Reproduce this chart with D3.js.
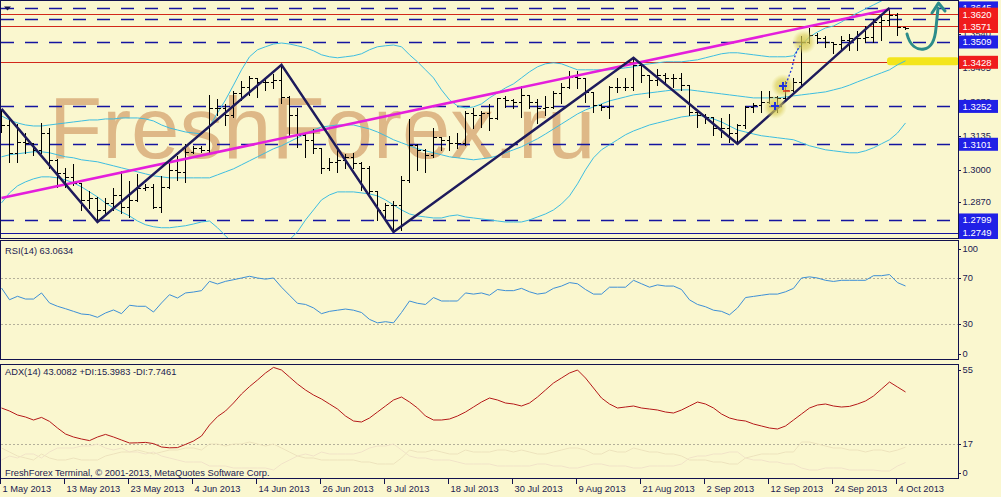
<!DOCTYPE html>
<html><head><meta charset="utf-8">
<script src="https://cdn.jsdelivr.net/npm/d3@7"></script>
<style>
html,body{margin:0;padding:0;background:#FAF7CF;overflow:hidden;}
svg{display:block;}
text{font-family:"Liberation Sans",Arial,sans-serif;}
</style></head><body>
<svg id="c" width="1001" height="497"></svg>
<script>
// ---------- data ----------
const dateLabels = ["1 May 2013","13 May 2013","23 May 2013","4 Jun 2013","14 Jun 2013","26 Jun 2013","8 Jul 2013","18 Jul 2013","30 Jul 2013","9 Aug 2013","21 Aug 2013","2 Sep 2013","12 Sep 2013","24 Sep 2013","4 Oct 2013"];
const dateLabelIdx = [0,8,16,24,32,40,48,56,64,72,80,88,96,104,112];

const open = [1.3166,1.3178,1.3067,1.3111,1.3107,1.3079,1.3146,1.3039,1.2987,1.2971,
1.2947,1.2879,1.2887,1.2839,1.2867,1.2899,1.2851,1.2879,1.2927,1.2931,
1.2851,1.2931,1.2999,1.2991,1.3071,1.3087,1.3079,1.3246,1.3246,1.3218,
1.3306,1.3330,1.3366,1.3350,1.3350,1.3358,1.3290,1.3218,1.3139,1.3119,
1.3087,1.3007,1.3031,1.3039,1.3051,1.3027,1.3007,1.2915,1.2839,1.2859,
1.2859,1.2959,1.3099,1.3079,1.3059,1.3131,1.3119,1.3107,1.3107,1.3226,
1.3218,1.3226,1.3206,1.3286,1.3278,1.3270,1.3298,1.3270,1.3246,1.3250,
1.3306,1.3330,1.3370,1.3366,1.3310,1.3258,1.3250,1.3330,1.3330,1.3330,
1.3418,1.3378,1.3358,1.3378,1.3366,1.3366,1.3337,1.3230,1.3218,1.3210,
1.3166,1.3166,1.3146,1.3178,1.3250,1.3258,1.3270,1.3290,1.3286,1.3318,
1.3350,1.3509,1.3537,1.3525,1.3509,1.3501,1.3517,1.3525,1.3525,1.3529,
1.3589,1.3597,1.3617,1.3569];
const high = [1.3242,1.3206,1.3186,1.3150,1.3111,1.3190,1.3170,1.3047,1.3011,1.3027,
1.2950,1.2919,1.2895,1.2891,1.2931,1.2999,1.2959,1.2987,1.2947,1.2947,
1.2979,1.3039,1.3059,1.3107,1.3099,1.3099,1.3302,1.3286,1.3266,1.3318,
1.3358,1.3378,1.3370,1.3370,1.3386,1.3418,1.3298,1.3250,1.3150,1.3166,
1.3091,1.3051,1.3087,1.3067,1.3071,1.3035,1.3018,1.2915,1.2871,1.2879,
1.2979,1.3206,1.3105,1.3085,1.3170,1.3135,1.3139,1.3150,1.3238,1.3250,
1.3238,1.3266,1.3290,1.3298,1.3285,1.3337,1.3300,1.3286,1.3298,1.3318,
1.3350,1.3398,1.3398,1.3370,1.3315,1.3266,1.3337,1.3370,1.3370,1.3446,
1.3425,1.3380,1.3406,1.3390,1.3386,1.3390,1.3340,1.3232,1.3226,1.3212,
1.3210,1.3226,1.3186,1.3258,1.3270,1.3318,1.3318,1.3298,1.3358,1.3370,
1.3537,1.3569,1.3549,1.3537,1.3512,1.3537,1.3545,1.3557,1.3577,1.3605,
1.3625,1.3645,1.3629,1.3573];
const low = [1.3150,1.3031,1.3031,1.3067,1.3059,1.3067,1.3007,1.2931,1.2931,1.2939,
1.2839,1.2847,1.2791,1.2819,1.2839,1.2827,1.2811,1.2875,1.2919,1.2847,
1.2831,1.2925,1.2959,1.2951,1.3067,1.3071,1.3067,1.3218,1.3178,1.3210,
1.3278,1.3298,1.3290,1.3318,1.3326,1.3266,1.3131,1.3091,1.3051,1.3067,
1.2987,1.3000,1.2991,1.3007,1.3007,1.2919,1.2907,1.2799,1.2799,1.2751,
1.2760,1.2950,1.2999,1.2991,1.3051,1.3079,1.3079,1.3087,1.3100,1.3166,
1.3170,1.3158,1.3200,1.3250,1.3246,1.3210,1.3246,1.3186,1.3218,1.3246,
1.3266,1.3326,1.3326,1.3270,1.3230,1.3238,1.3206,1.3310,1.3318,1.3318,
1.3350,1.3290,1.3337,1.3350,1.3330,1.3318,1.3218,1.3170,1.3186,1.3139,
1.3131,1.3111,1.3103,1.3166,1.3230,1.3230,1.3266,1.3230,1.3280,1.3312,
1.3330,1.3505,1.3505,1.3490,1.3466,1.3478,1.3478,1.3478,1.3509,1.3509,
1.3517,1.3577,1.3537,1.3561];
const close = [1.3178,1.3067,1.3111,1.3107,1.3079,1.3146,1.3039,1.2987,1.2971,1.2947,
1.2879,1.2887,1.2839,1.2867,1.2899,1.2851,1.2879,1.2927,1.2931,1.2851,
1.2931,1.2999,1.2991,1.3071,1.3087,1.3079,1.3246,1.3246,1.3218,1.3306,
1.3330,1.3366,1.3350,1.3350,1.3358,1.3290,1.3218,1.3139,1.3119,1.3087,
1.3007,1.3031,1.3039,1.3051,1.3027,1.3007,1.2915,1.2839,1.2859,1.2859,
1.2959,1.3099,1.3079,1.3059,1.3131,1.3119,1.3107,1.3107,1.3226,1.3218,
1.3226,1.3206,1.3286,1.3278,1.3270,1.3298,1.3270,1.3246,1.3250,1.3306,
1.3330,1.3370,1.3366,1.3310,1.3258,1.3250,1.3330,1.3330,1.3330,1.3418,
1.3378,1.3358,1.3378,1.3366,1.3366,1.3337,1.3230,1.3218,1.3210,1.3166,
1.3166,1.3146,1.3178,1.3250,1.3258,1.3270,1.3290,1.3286,1.3318,1.3350,
1.3509,1.3537,1.3525,1.3509,1.3501,1.3517,1.3525,1.3525,1.3529,1.3589,
1.3597,1.3617,1.3569,1.3565];

const bbUpper = [1.3214,1.3198,1.3186,1.3178,1.3174,1.3174,1.3178,1.3182,1.3186,1.3190,
1.3194,1.3198,1.3198,1.3202,1.3202,1.3206,1.3206,1.3206,1.3202,1.3194,
1.3178,1.3166,1.3158,1.3150,1.3146,1.3142,1.3170,1.3226,1.3278,1.3337,
1.3398,1.3450,1.3478,1.3490,1.3501,1.3505,1.3501,1.3494,1.3486,1.3474,
1.3458,1.3450,1.3446,1.3450,1.3454,1.3462,1.3478,1.3490,1.3494,1.3497,
1.3490,1.3458,1.3430,1.3398,1.3366,1.3318,1.3278,1.3254,1.3246,1.3250,
1.3262,1.3286,1.3306,1.3326,1.3342,1.3366,1.3390,1.3410,1.3422,1.3426,
1.3422,1.3410,1.3398,1.3398,1.3398,1.3398,1.3398,1.3402,1.3406,1.3410,
1.3418,1.3422,1.3426,1.3430,1.3430,1.3430,1.3434,1.3438,1.3446,1.3454,
1.3462,1.3466,1.3466,1.3462,1.3458,1.3454,1.3450,1.3450,1.3450,1.3454,
1.3498,1.3529,1.3549,1.3565,1.3573,1.3589,1.3609,1.3625,1.3641,1.3657,
1.3673,1.3689,1.3697,1.3701];
const bbMiddle = [1.3051,1.3059,1.3063,1.3067,1.3071,1.3071,1.3067,1.3059,1.3051,1.3047,
1.3039,1.3035,1.3031,1.3023,1.3015,1.3007,1.2999,1.2991,1.2983,1.2975,
1.2971,1.2967,1.2967,1.2967,1.2967,1.2967,1.2967,1.2979,1.2991,1.3003,
1.3019,1.3035,1.3051,1.3067,1.3083,1.3095,1.3111,1.3127,1.3142,1.3158,
1.3170,1.3174,1.3178,1.3178,1.3178,1.3170,1.3162,1.3150,1.3135,1.3119,
1.3107,1.3095,1.3083,1.3075,1.3067,1.3059,1.3051,1.3047,1.3043,1.3039,
1.3043,1.3047,1.3055,1.3067,1.3079,1.3091,1.3107,1.3123,1.3142,1.3162,
1.3182,1.3202,1.3222,1.3238,1.3250,1.3262,1.3274,1.3282,1.3290,1.3298,
1.3302,1.3306,1.3310,1.3314,1.3318,1.3318,1.3318,1.3314,1.3310,1.3306,
1.3302,1.3298,1.3294,1.3290,1.3286,1.3286,1.3286,1.3286,1.3290,1.3294,
1.3298,1.3302,1.3306,1.3310,1.3318,1.3326,1.3337,1.3350,1.3362,1.3374,
1.3386,1.3398,1.3418,1.3434];
const bbLower = [1.2867,1.2907,1.2935,1.2951,1.2963,1.2971,1.2971,1.2967,1.2959,1.2947,
1.2931,1.2911,1.2891,1.2867,1.2847,1.2831,1.2815,1.2795,1.2780,1.2772,
1.2768,1.2768,1.2772,1.2776,1.2783,1.2791,1.2795,1.2768,1.2736,1.2704,
1.2680,1.2656,1.2648,1.2660,1.2680,1.2700,1.2720,1.2752,1.2799,1.2839,
1.2879,1.2899,1.2911,1.2911,1.2911,1.2907,1.2903,1.2895,1.2879,1.2859,
1.2839,1.2823,1.2815,1.2811,1.2807,1.2807,1.2815,1.2819,1.2811,1.2807,
1.2803,1.2799,1.2795,1.2791,1.2791,1.2791,1.2799,1.2811,1.2823,1.2839,
1.2863,1.2895,1.2943,1.2999,1.3047,1.3079,1.3099,1.3119,1.3139,1.3154,
1.3166,1.3178,1.3186,1.3194,1.3202,1.3210,1.3214,1.3218,1.3210,1.3202,
1.3190,1.3174,1.3158,1.3150,1.3142,1.3135,1.3131,1.3127,1.3123,1.3119,
1.3107,1.3095,1.3087,1.3079,1.3075,1.3071,1.3067,1.3067,1.3075,1.3087,
1.3103,1.3119,1.3146,1.3186];

const rsi = [61.3,51.1,54.1,51.7,51.7,57,48.3,45.4,43.3,41,
38.7,38.1,35.8,39.6,42.2,39,46.3,45.4,45.4,40.4,
48.3,55.5,52.6,57,57.8,59,67.1,64.8,67.1,68.5,
70,71.5,70,69,70,62,55,48,47,44,
39,41,42,43,42,40,34,31,32,31,
40,50,48,47,53,50,50,50,57,56,
57,55,60,59,59,61,58,56,57,61,
63,66,65,60,56,56,62,62,62,68,
65,62,64,63,63,60,51,47,45,42,
41,38,44,53,54,55,56,56,58,61,
70,71,70,68,67,68,68,68,68,72,
72,73,66,63.0634];
const adx = [35,33.5,31.5,30.5,29,30.3,28.3,25,22,20.5,
19.5,18.7,20.5,21.8,20.5,19,17.5,17.6,17.8,17.2,
15.5,15.1,15.2,16.8,18.5,21,26.5,30.7,33.5,37.5,
42,45.7,49,52.5,55.3,54,50.5,47,44,41.5,
39.5,37,34.5,31,28.5,28,30,33,36,39,
40.5,38,35,31,29,29,29.5,31,33,35.5,
38,40,39,37.5,37,36,37.5,40.5,44,47.5,
50,52.5,54,50,45,40,37,35,35.5,36,
35,34.5,34,33,32.5,34,36,38,37,35,
32,30,29,28.5,27,26,25,24.5,26,29,
32,35,36.5,37,36,35.5,35.8,37,38.5,41,
44.5,48,45.5,43.0082];
const plusDI = [15,13,11,10,9,12,10,9,9,10,
9,9,9,11,12,13,13,14,13,12,
13,14,14,15,15,14,17,17,16,17,
17,18,17,16,17,15,13,11,10,10,
9,9,9,9,9,8,8,7,7,7,
10,14,13,13,14,13,12,12,14,13,
13,13,14,14,13,14,13,12,12,13,
14,15,15,14,12,12,14,13,13,15,
14,13,13,12,12,11,9,9,9,8,
8,7,7,10,11,12,12,12,13,13,
18,18,17,16,15,15,14,14,13,14,
14,13,14,15.3983];
const minusDI = [9,11,10,12,12,10,13,15,15,15,
16,16,17,15,14,15,13,13,12,13,
11,10,9,8,8,8,6,6,6,5,
5,5,5,5,4,7,9,11,12,11,
13,12,12,12,12,13,15,16,16,17,
14,11,10,10,9,9,9,8,7,7,
7,7,6,6,6,6,6,7,7,6,
6,5,5,6,7,7,6,6,6,5,
5,6,6,6,6,7,10,11,11,12,
12,13,13,10,9,9,8,8,7,7,
5,4,4,5,5,5,4,4,4,4,
3.5,3.5,6,7.7461];

const zigzagIdx = [0,12,35,49,79,92,111];
const zigzagPrice = [1.3242,1.2791,1.3418,1.2751,1.3446,1.3103,1.3645];
const trendIdx = [0,111];
const trendPrice = [1.2887,1.3640];

const blueDashLevels = [1.3645,1.3600,1.3509,1.3252,1.3101,1.2799];
const redLevels = [1.3620,1.3571,1.3428];
const blueSolidLevels = [1.2749];
const priceTicks = [1.3540,1.3405,1.3270,1.3135,1.3000,1.2870];
const rsiTicks = [100,70,30,0];
const rsiLevels = [70,30];
const adxTicks = [55,17,0];
const adxLevels = [17];

// ---------- layout ----------
const svg = d3.select("#c");
const L = 0.5, R = 958.5;
const P = {main:[0.5,238.5], rsi:[240.5,359.5], adx:[364.5,478.5]};
const x = d3.scaleLinear().domain([0,1]).range([1.5,9.5]);
const yP = d3.scaleLinear().domain([1.2749,1.3509]).range([232.5,42]);
const yR = d3.scaleLinear().domain([0,100]).range([358.5,243.5]);
const yA = d3.scaleLinear().domain([0,55]).range([478,368]);
const idx = d3.range(close.length);
const navy = "#12124E";
const txt = "#1A1A50";

svg.append("rect").attr("width",1001).attr("height",497).attr("fill","#FAF7CF");

const defs = svg.append("defs");
Object.entries(P).forEach(([k,[t,b]])=>{
  defs.append("clipPath").attr("id","clip-"+k).append("rect")
    .attr("x",L).attr("y",t).attr("width",R-L).attr("height",b-t);
});
const glow = defs.append("radialGradient").attr("id","glow");
glow.append("stop").attr("offset","0").attr("stop-color","#D2C64A").attr("stop-opacity",0.85);
glow.append("stop").attr("offset","0.6").attr("stop-color","#D8CC58").attr("stop-opacity",0.6);
glow.append("stop").attr("offset","1").attr("stop-color","#E0D870").attr("stop-opacity",0);

// ---------- main panel ----------
const gM = svg.append("g").attr("clip-path","url(#clip-main)");
gM.append("text").attr("x",49).attr("y",158).attr("font-size",87)
  .attr("fill","#DEB887").text("FreshForex.ru");

const hline = (g,p,stroke,dash,w)=>g.append("line").attr("x1",1).attr("x2",R)
  .attr("y1",Math.round(yP(p))+0.5).attr("y2",Math.round(yP(p))+0.5)
  .attr("stroke",stroke).attr("stroke-width",w).attr("stroke-dasharray",dash);
blueDashLevels.forEach(p=>hline(gM,p,"#1414A0","13,11",1.3));
redLevels.forEach(p=>hline(gM,p,"#D2281A",null,1));
blueSolidLevels.forEach(p=>hline(gM,p,"#1414A0",null,1.2));

// yellow highlight at support
gM.append("rect").attr("x",887).attr("y",yP(1.3428)-5).attr("width",72).attr("height",8)
  .attr("rx",3).attr("fill","#F3E51C");

const bandLine = arr => d3.line().x(i=>x(i)).y(i=>yP(arr[i]))(idx);
[bbUpper,bbMiddle,bbLower].forEach(a=>gM.append("path").attr("d",bandLine(a))
  .attr("fill","none").attr("stroke","#3DBDE0").attr("stroke-width",1));

// OHLC bars
const rnd = v=>Math.round(v)+0.5;
gM.append("g").attr("stroke","#000").attr("stroke-width",1).attr("shape-rendering","crispEdges")
  .selectAll("path").data(idx).join("path")
  .attr("d",i=>{const X=x(i);return `M${X},${rnd(yP(high[i]))}V${rnd(yP(low[i]))}`+
     `M${X-3},${rnd(yP(open[i]))}H${X}M${X},${rnd(yP(close[i]))}H${X+3.5}`;});

// trend line & zigzag
gM.append("path").attr("d",d3.line().x((d,k)=>x(trendIdx[k])).y((d,k)=>yP(trendPrice[k]))(trendIdx))
  .attr("stroke","#E41EDC").attr("stroke-width",2.6).attr("fill","none");
gM.append("path").attr("d",d3.line().x((d,k)=>x(zigzagIdx[k])).y((d,k)=>yP(zigzagPrice[k]))(zigzagIdx))
  .attr("stroke","#1E1B5C").attr("stroke-width",2.5).attr("fill","none").attr("stroke-linejoin","miter");

// annotations
[[804,42],[783,86],[775,107]].forEach(([cx,cy])=>gM.append("circle").attr("cx",cx).attr("cy",cy).attr("r",12).attr("fill","url(#glow)"));
gM.append("path").attr("d","M786,84 L792,68 Q795,52 800,46").attr("stroke","#2233DD")
  .attr("stroke-width",1.3).attr("stroke-dasharray","2,2").attr("fill","none");
[[775,106],[783,86]].forEach(([cx,cy])=>gM.append("path")
  .attr("d",`M${cx-4},${cy}H${cx+4}M${cx},${cy-4}V${cy+4}`).attr("stroke","#2233DD").attr("stroke-width",2));
gM.append("line").attr("x1",783).attr("x2",790).attr("y1",91).attr("y2",91).attr("stroke","#E03020").attr("stroke-width",1.5);
gM.append("path").attr("d","M907,34 C910,46 917,50 924,49 C931,48 935,40 936,28 L938,8")
  .attr("stroke","#2C8C8A").attr("stroke-width",3).attr("fill","none").attr("stroke-linecap","round");
gM.append("path").attr("d","M932,13 L938.5,3 L945,11").attr("stroke","#2C8C8A").attr("stroke-width",3)
  .attr("fill","none").attr("stroke-linecap","round").attr("stroke-linejoin","round");
gM.append("path").attr("d","M4,6.5 L11,6.5 L7.5,10.5Z").attr("fill",navy);

// ---------- RSI panel ----------
const gR = svg.append("g").attr("clip-path","url(#clip-rsi)");
rsiLevels.forEach(v=>gR.append("line").attr("x1",1).attr("x2",R).attr("y1",Math.round(yR(v))+0.5)
  .attr("y2",Math.round(yR(v))+0.5).attr("stroke","#B4B09A").attr("stroke-dasharray","2,2"));
gR.append("path").attr("d",d3.line().x(i=>x(i)).y(i=>yR(rsi[i]))(idx))
  .attr("fill","none").attr("stroke","#3D8FD6").attr("stroke-width",1);

// ---------- ADX panel ----------
const gA = svg.append("g").attr("clip-path","url(#clip-adx)");
adxLevels.forEach(v=>gA.append("line").attr("x1",1).attr("x2",R).attr("y1",Math.round(yA(v))+0.5)
  .attr("y2",Math.round(yA(v))+0.5).attr("stroke","#B4B09A").attr("stroke-dasharray","2,2"));
gA.append("path").attr("d",d3.line().x(i=>x(i)).y(i=>yA(plusDI[i]))(idx))
  .attr("fill","none").attr("stroke","#EDE3BD").attr("stroke-width",1);
gA.append("path").attr("d",d3.line().x(i=>x(i)).y(i=>yA(minusDI[i]))(idx))
  .attr("fill","none").attr("stroke","#F1E3C8").attr("stroke-width",1);
gA.append("path").attr("d",d3.line().x(i=>x(i)).y(i=>yA(adx[i]))(idx))
  .attr("fill","none").attr("stroke","#B41A1A").attr("stroke-width",1);

// ---------- borders ----------
Object.values(P).forEach(([t,b])=>svg.append("rect").attr("x",L).attr("y",t)
  .attr("width",R-L).attr("height",b-t).attr("fill","none").attr("stroke",navy).attr("stroke-width",1));

// ---------- panel captions ----------
const cap = (t,yc)=>svg.append("text").attr("x",5).attr("y",yc).attr("dy","0.35em")
  .attr("font-size",9.3).attr("fill",txt).text(t);
cap("RSI(14) 63.0634",251);
cap("ADX(14) 43.0082 +DI:15.3983 -DI:7.7461",372);
cap("FreshForex Terminal, \u00A9 2001-2013, MetaQuotes Software Corp.",473);

// ---------- right axes ----------
const fmt = d3.format(".4f");
const axisLabel = (yc,t)=>{
  svg.append("line").attr("x1",958).attr("x2",961).attr("y1",Math.round(yc)+0.5).attr("y2",Math.round(yc)+0.5).attr("stroke",navy);
  svg.append("text").attr("x",962.5).attr("y",yc).attr("dy","0.35em").attr("font-size",9.3).attr("fill",txt).text(t);
};
priceTicks.forEach(p=>axisLabel(yP(p),fmt(p)));
const clampY=(v,t,b)=>Math.max(t,Math.min(b,v));
rsiTicks.forEach(v=>axisLabel(clampY(yR(v),P.rsi[0]+8,P.rsi[1]-6),String(v)));
adxTicks.forEach(v=>axisLabel(clampY(yA(v),P.adx[0]+5,P.adx[1]-5.5),String(v)));

const box = (p,fill)=>{
  const yc = yP(p);
  svg.append("rect").attr("x",959).attr("y",yc-6.5).attr("width",39).attr("height",13).attr("fill",fill);
  svg.append("text").attr("x",962.5).attr("y",yc).attr("dy","0.35em").attr("font-size",9.5)
    .attr("fill","#fff").text(fmt(p));
};
blueDashLevels.concat(blueSolidLevels).forEach(p=>box(p,"#2020E6"));
redLevels.forEach(p=>box(p,"#F01C1C"));

// ---------- bottom date axis ----------
dateLabelIdx.forEach((i,k)=>{
  const X = Math.round(x(i))-1.5;
  svg.append("line").attr("x1",X).attr("x2",X).attr("y1",479).attr("y2",484).attr("stroke",navy);
  svg.append("text").attr("x",X+2).attr("y",488.5).attr("dy","0.35em").attr("font-size",9.3)
    .attr("fill",txt).text(dateLabels[k]);
});
</script>
</body></html>
